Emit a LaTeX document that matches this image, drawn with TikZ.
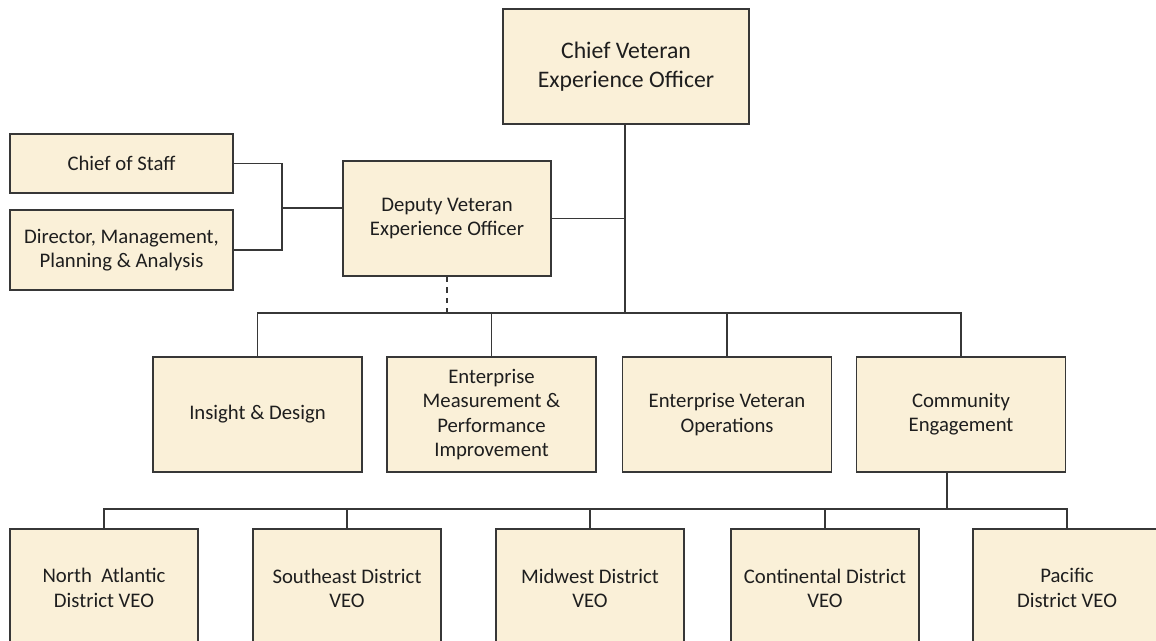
\documentclass[tikz,border=0pt]{standalone}
\usepackage{fontspec}
\setmainfont{Carlito}
\definecolor{boxfill}{RGB}{250,240,216}
\definecolor{boxline}{RGB}{55,55,55}
\definecolor{inktext}{RGB}{30,30,30}
\begin{document}
\begin{tikzpicture}[x=0.02cm, y=-0.02cm,
    unit/.style={draw=boxline, fill=boxfill, line width=1pt, align=center,
        text=inktext, font=\fontsize{11.8}{13.8}\selectfont, inner sep=2pt},
    link/.style={draw=boxline, line width=1pt}]
    \useasboundingbox (0,0) rectangle (1156,641);
    \clip (0,0) rectangle (1156,641);
    \fill[white] (0,0) rectangle (1156,641);

    \node[unit, minimum width=4.92cm, minimum height=2.30cm,
        font=\fontsize{13.5}{16.4}\selectfont] (chief) at (626,66.5) {Chief Veteran\\Experience Officer};
    \node[unit, minimum width=4.16cm, minimum height=2.30cm] (deputy) at (447,218.5) {Deputy Veteran\\Experience Officer};
    \node[unit, minimum width=4.46cm, minimum height=1.18cm] (staff) at (121.5,163.5) {Chief of Staff};
    \node[unit, minimum width=4.46cm, minimum height=1.60cm] (director) at (121.5,250) {Director, Management,\\Planning \& Analysis};

    \node[unit, minimum width=4.18cm, minimum height=2.30cm] (insight) at (257.5,414.5) {Insight \& Design};
    \node[unit, minimum width=4.18cm, minimum height=2.30cm] (measure) at (491.5,414.5) {Enterprise\\Measurement \&\\Performance\\Improvement};
    \node[unit, minimum width=4.18cm, minimum height=2.30cm] (operations) at (727,414.5) {Enterprise Veteran\\Operations};
    \node[unit, minimum width=4.18cm, minimum height=2.30cm] (community) at (961,414.5) {Community\\Engagement};

    \node[unit, minimum width=3.76cm, minimum height=2.36cm] (natlantic) at (104,588) {North~ Atlantic\\District VEO};
    \node[unit, minimum width=3.76cm, minimum height=2.36cm] (southeast) at (347,588) {Southeast District\\VEO};
    \node[unit, minimum width=3.76cm, minimum height=2.36cm] (midwest) at (590,588) {Midwest District\\VEO};
    \node[unit, minimum width=3.76cm, minimum height=2.36cm] (continental) at (825,588) {Continental District\\VEO};
    \node[unit, minimum width=3.76cm, minimum height=2.36cm] (pacific) at (1067,588) {Pacific\\District VEO};

    \coordinate (lbar) at (282,208);
    \coordinate (bar2) at (625,313);
    \coordinate (bar3) at (947,509);

    \draw[link] (staff.east) -| (lbar) |- (director.east);
    \draw[link] (lbar) -- (lbar -| deputy.west);
    \draw[link] (chief.south -| bar2) -- (bar2);
    \draw[link] (deputy.east) -- (deputy.east -| bar2);
    \draw[link, dashed] (deputy.south) -- (deputy.south |- bar2);
    \draw[link] (insight.north) |- (community.north |- bar2) -- (community.north);
    \foreach \n in {measure,operations}
        \draw[link] (\n.north) -- (\n.north |- bar2);

    \draw[link] (community.south -| bar3) -- (bar3);
    \draw[link] (natlantic.north) |- (pacific.north |- bar3) -- (pacific.north);
    \foreach \n in {southeast,midwest,continental}
        \draw[link] (\n.north) -- (\n.north |- bar3);
\end{tikzpicture}
\end{document}
